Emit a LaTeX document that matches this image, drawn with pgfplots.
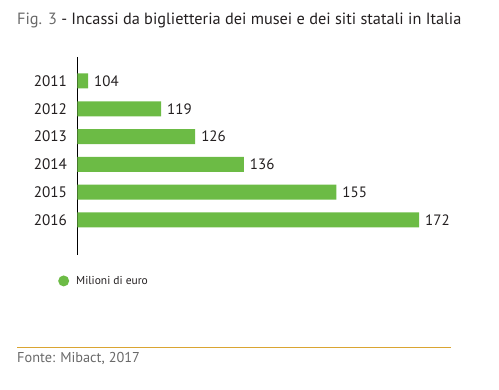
\documentclass[border=0pt]{standalone}
\usepackage{pgfplots}
\pgfplotsset{compat=1.18}
\usepackage{fontspec}
\setmainfont{PT Sans}
\definecolor{bargreen}{RGB}{108,187,69}
\definecolor{txt}{RGB}{35,31,32}
\definecolor{gr}{RGB}{105,105,105}
\definecolor{gold}{RGB}{218,165,50}
\begin{document}
\begin{tikzpicture}
\useasboundingbox (0pt,0pt) rectangle (499pt,390pt);
\node[anchor=base west, inner sep=0pt, font=\fontsize{16.3}{20}\selectfont] at (17pt,365pt) {\textcolor{gr}{Fig. 3} \textcolor{txt}{- Incassi da biglietteria dei musei e dei siti statali in Italia}};
\begin{axis}[
  at={(77.5pt,135pt)}, anchor=south west,
  scale only axis, width=421.5pt, height=198pt,
  xmin=101.84, xmax=188.43,
  ymin=-0.863, ymax=6.26, y dir=reverse,
  axis x line=none, axis y line*=left,
  y axis line style={black, line width=0.7pt},
  ytick={0,1,2,3,4,5},
  yticklabels={2011,2012,2013,2014,2015,2016},
  ytick style={draw=none},
  yticklabel style={font=\fontsize{15.2}{16}\selectfont, text=txt, inner sep=0pt, xshift=-6pt},
  xbar, bar width=15pt,
  nodes near coords,
  nodes near coords style={font=\fontsize{15}{16}\selectfont, text=txt, anchor=west, inner sep=0pt, xshift=6pt},
  /pgf/number format/assume math mode=true,
  legend style={at={(axis description cs:-0.0463,-0.131)}, anchor=west, draw=none, fill=none, inner sep=0pt, font=\fontsize{11.5}{14}\selectfont, text=txt},
  legend image code/.code={\fill[bargreen] (5.5pt,0pt) circle (5.5pt);},
]
\addplot[fill=bargreen, draw=none] coordinates {(104,0) (119,1) (126,2) (136,3) (155,4) (172,5)};
\addlegendentry{\hspace{5pt}Milioni di euro}
\end{axis}
\draw[gold, line width=0.8pt] (17pt,43pt) -- (451pt,43pt);
\node[anchor=base west, inner sep=0pt, font=\fontsize{14.3}{16}\selectfont, text=gr] at (17pt,27pt) {Fonte: Mibact, 2017};
\end{tikzpicture}
\end{document}
